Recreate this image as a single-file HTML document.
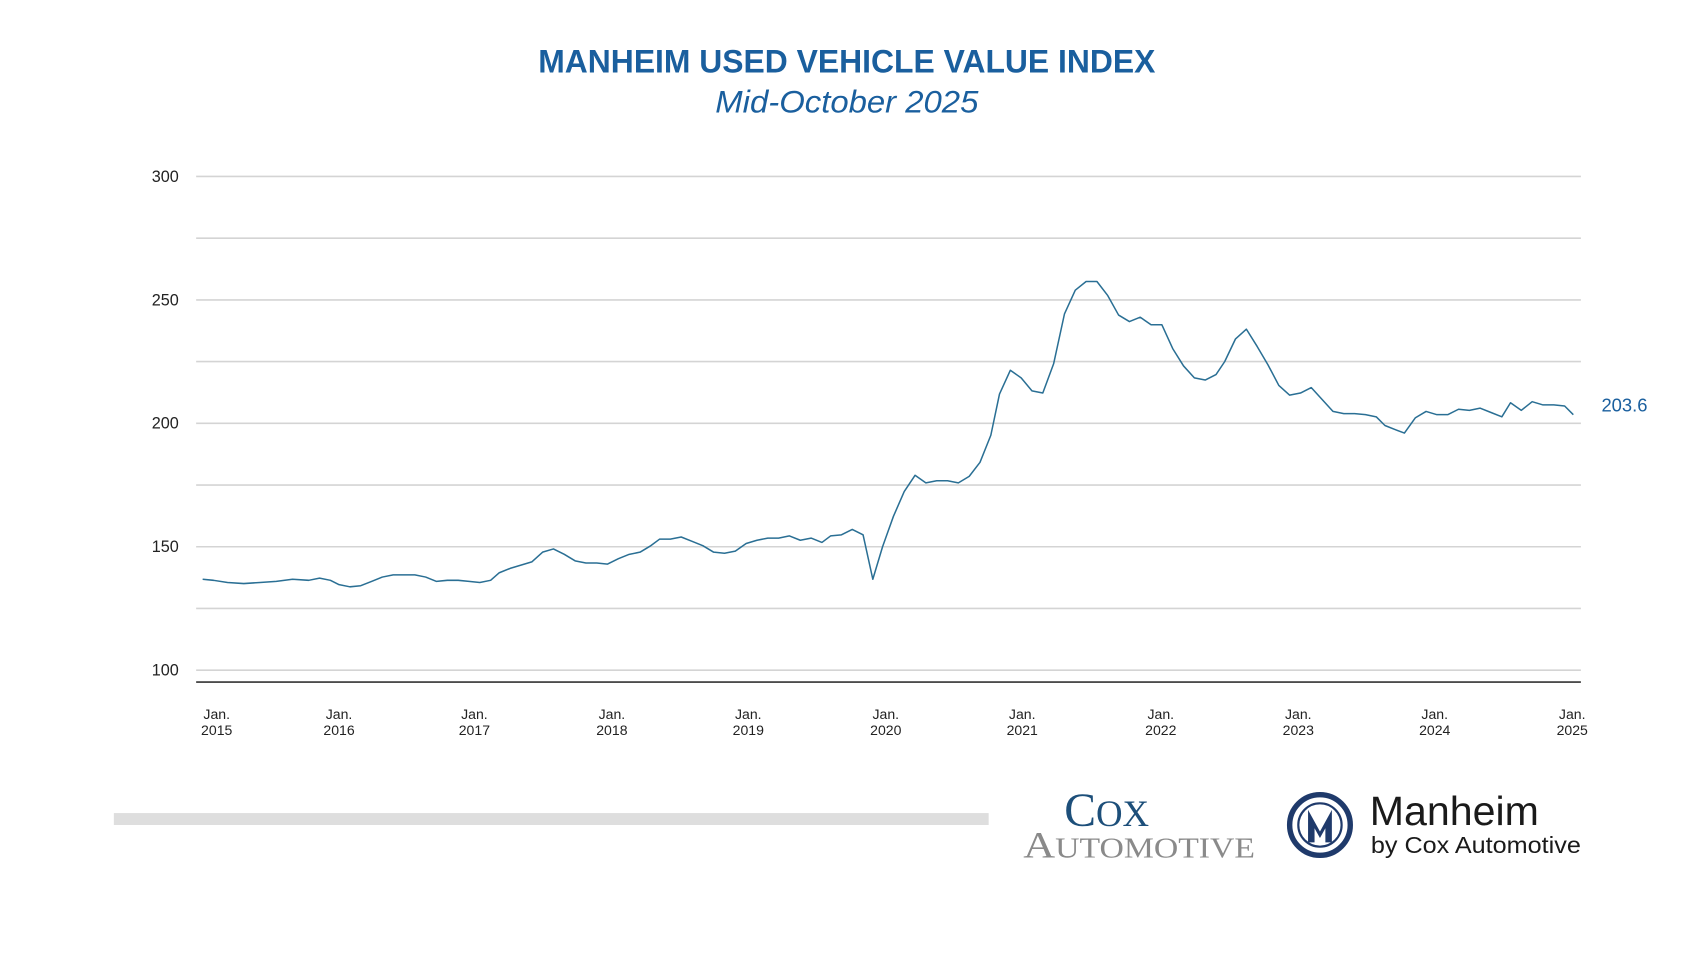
<!DOCTYPE html>
<html><head><meta charset="utf-8"><style>
html,body{margin:0;padding:0;background:#fff;width:1698px;height:956px;overflow:hidden}
svg{display:block}
</style></head><body>
<svg width="1698" height="956" viewBox="0 0 1568 883" xmlns="http://www.w3.org/2000/svg" font-family="Liberation Sans, sans-serif">
<rect width="1568" height="883" fill="#fff"/>
<text x="782" y="67" text-anchor="middle" font-size="30" font-weight="bold" fill="#1a5f9e" textLength="570" lengthAdjust="spacingAndGlyphs">MANHEIM USED VEHICLE VALUE INDEX</text>
<text x="782" y="104" text-anchor="middle" font-size="29" font-style="italic" fill="#1a5f9e" textLength="243" lengthAdjust="spacingAndGlyphs">Mid-October 2025</text>
<g stroke="#d4d4d4" stroke-width="1.5">
<line x1="181" x2="1460" y1="163" y2="163"/><line x1="181" x2="1460" y1="220" y2="220"/>
<line x1="181" x2="1460" y1="277" y2="277"/><line x1="181" x2="1460" y1="334" y2="334"/>
<line x1="181" x2="1460" y1="391" y2="391"/><line x1="181" x2="1460" y1="448" y2="448"/>
<line x1="181" x2="1460" y1="505" y2="505"/><line x1="181" x2="1460" y1="562" y2="562"/>
<line x1="181" x2="1460" y1="619" y2="619"/>
</g>
<line x1="181" x2="1460" y1="630" y2="630" stroke="#333" stroke-width="1.5"/>
<g font-size="15" fill="#222" text-anchor="end">
<text x="165" y="168">300</text><text x="165" y="282">250</text><text x="165" y="396">200</text><text x="165" y="510">150</text><text x="165" y="624">100</text>
</g>
<g font-size="13" fill="#222" text-anchor="middle">
<text x="200" y="664">Jan.</text><text x="200" y="679">2015</text>
<text x="313" y="664">Jan.</text><text x="313" y="679">2016</text>
<text x="438" y="664">Jan.</text><text x="438" y="679">2017</text>
<text x="565" y="664">Jan.</text><text x="565" y="679">2018</text>
<text x="691" y="664">Jan.</text><text x="691" y="679">2019</text>
<text x="818" y="664">Jan.</text><text x="818" y="679">2020</text>
<text x="944" y="664">Jan.</text><text x="944" y="679">2021</text>
<text x="1072" y="664">Jan.</text><text x="1072" y="679">2022</text>
<text x="1199" y="664">Jan.</text><text x="1199" y="679">2023</text>
<text x="1325" y="664">Jan.</text><text x="1325" y="679">2024</text>
<text x="1452" y="664">Jan.</text><text x="1452" y="679">2025</text>
</g>
<polyline fill="none" stroke="#2a6f94" stroke-width="1.4" stroke-linejoin="round" points="187,535 197,536 210,538 225,539 240,538 255,537 270,535 285,536 295,534 305,536 313,540 323,542 333,541 343,537 353,533 363,531 373,531 383,531 393,533 403,537 413,536 423,536 433,537 443,538 453,536 461,529 471,525 481,522 491,519 501,510 511,507 521,512 531,518 541,520 551,520 561,521 571,516 581,512 591,510 601,504 609,498 619,498 629,496 639,500 649,504 659,510 669,511 679,509 689,502 699,499 709,497 719,497 729,495 739,499 749,497 759,501 767,495 777,494 787,489 797,494 806,535 815,505 825,477 835,454 845,439 855,446 865,444 875,444 885,446 895,440 905,427 915,402 923,364 933,342 943,349 953,361 963,363 973,336 983,290 993,268 1003,260 1013,260 1023,273 1033,291 1043,297 1053,293 1063,300 1073,300 1083,322 1093,338 1103,349 1113,351 1123,346 1131,334 1141,313 1151,304 1161,320 1171,337 1181,356 1191,365 1201,363 1211,358 1221,369 1231,380 1241,382 1251,382 1261,383 1271,385 1279,393 1289,397 1297,400 1307,386 1317,380 1327,383 1337,383 1347,378 1357,379 1367,377 1377,381 1387,385 1395,372 1405,379 1415,371 1425,374 1435,374 1445,375 1453,383"/>
<text x="1479" y="380" font-size="17" fill="#1a5f9e">203.6</text>
<rect x="105" y="751" width="808" height="11" fill="#dedede"/>
<text x="1022" y="763" text-anchor="middle" font-family="Liberation Serif, serif" font-size="44" fill="#1d4f7a">C<tspan font-size="34">OX</tspan></text>
<text x="1052" y="792" text-anchor="middle" font-family="Liberation Serif, serif" font-size="34" fill="#8a8a8a" textLength="214" lengthAdjust="spacingAndGlyphs">A<tspan font-size="26">UTOMOTIVE</tspan></text>
<circle cx="1219" cy="762" r="28" fill="none" stroke="#1f3a6b" stroke-width="5"/>
<circle cx="1219" cy="762" r="20" fill="none" stroke="#1f3a6b" stroke-width="2"/>
<path d="M1208 778 L1208 748 L1219 768 L1230 748 L1230 778 L1224 778 L1224 765 L1219 774 L1214 765 L1214 778 Z" fill="#1f3a6b"/>
<text x="1265" y="762" font-size="38" fill="#1a1a1a">Manheim</text>
<text x="1266" y="788" font-size="21" fill="#1a1a1a" textLength="194" lengthAdjust="spacingAndGlyphs">by Cox Automotive</text>
</svg>
</body></html>
